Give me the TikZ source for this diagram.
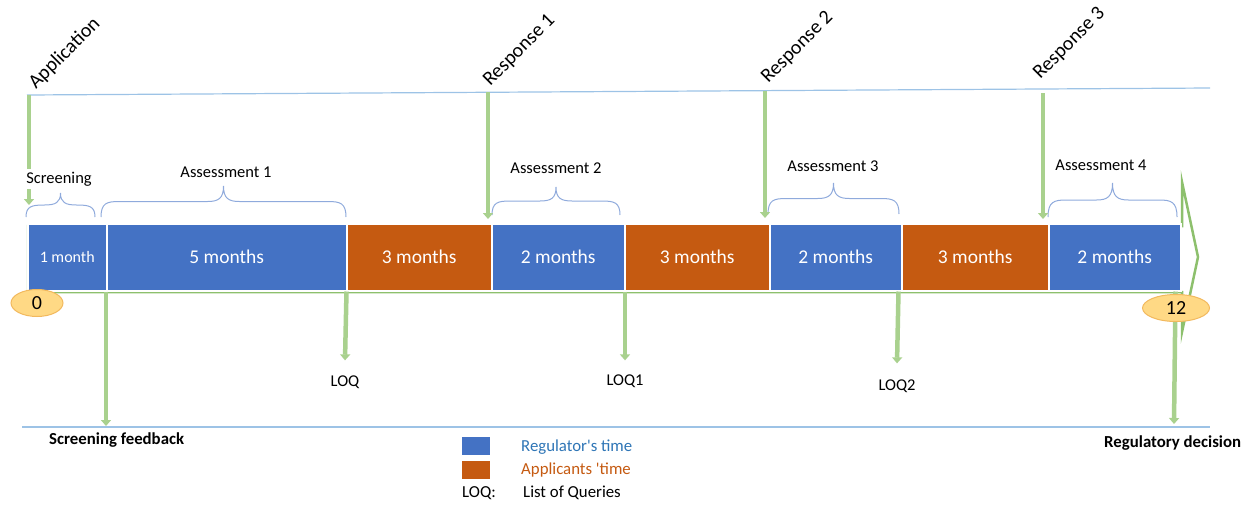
\documentclass[tikz,border=0pt]{standalone}
\usepackage{fontspec}
\setmainfont{Carlito}
\usetikzlibrary{arrows.meta,shapes.geometric}
\definecolor{regblue}{HTML}{4472C4}
\definecolor{appor}{HTML}{C55A11}
\definecolor{arrgreen}{HTML}{A9D18E}
\definecolor{arredge}{HTML}{8DC06D}
\definecolor{rulblue}{HTML}{9DC3E6}
\definecolor{brblue}{HTML}{8FAADC}
\definecolor{legblue}{HTML}{2E75B6}
\definecolor{eggfill}{HTML}{FFD985}
\definecolor{eggline}{HTML}{F2B95E}
% curly brace: x-left, x-right, y of the ends, height
\newcommand{\ofbrace}[4]{%
  \draw[bracestyle] (#1,#3) .. controls (#1,#3-0.45*#4) and (#1+6,#3-0.5*#4) .. (#1+18,#3-0.5*#4)
    -- ({(#1+#2)/2-16},#3-0.5*#4) .. controls ({(#1+#2)/2-5},#3-0.5*#4) and ({(#1+#2)/2},#3-0.6*#4) .. ({(#1+#2)/2},#3-#4)
    .. controls ({(#1+#2)/2},#3-0.6*#4) and ({(#1+#2)/2+5},#3-0.5*#4) .. ({(#1+#2)/2+16},#3-0.5*#4)
    -- (#2-18,#3-0.5*#4) .. controls (#2-6,#3-0.5*#4) and (#2,#3-0.45*#4) .. (#2,#3);}
\begin{document}
\begin{tikzpicture}[x=1pt,y=-1pt,
  rulestyle/.style={draw=rulblue,line width=1.2pt},
  bracestyle/.style={draw=brblue,line width=1pt},
  seg/.style={draw=white,line width=1.5pt,anchor=north west,minimum height=67pt,inner sep=0pt,
    text=white,font=\fontsize{19.5}{22}\selectfont},
  garrow/.style={draw=arrgreen,line width=4.5pt,-{Triangle[width=10pt,length=6pt]}},
  annot/.style={font=\fontsize{16.5}{19}\selectfont,inner sep=1pt},
  rotlab/.style={font=\fontsize{20}{24}\selectfont,anchor=south west,inner sep=0pt},
  boldlab/.style={font=\bfseries\fontsize{16.8}{19}\selectfont,inner sep=0pt},
  egg/.style={ellipse,draw=eggline,fill=eggfill,line width=1pt,inner sep=0pt,font=\fontsize{20}{24}\selectfont},
  legtext/.style={font=\fontsize{16.8}{19}\selectfont,anchor=west,inner sep=0pt}]
\useasboundingbox (0,0) rectangle (1246,504);

% horizontal guide lines
\draw[rulestyle] (27,95) -- (1210,88);
\draw[rulestyle] (22,427) -- (1210,427);

% green arrow outline behind the time bar
\draw[draw=arredge,line width=2.5pt,line join=miter]
  (28,226) -- (1182,226) -- (1182,182) -- (1198,257) -- (1182,332) -- (1182,292) -- (28,292) -- cycle;

% time bar
\node[seg,fill=regblue,minimum width=79pt,font=\fontsize{16}{19}\selectfont] (s1) at (27,223) {1 month};
\node[seg,fill=regblue,minimum width=240pt] (s2) at (106,223) {5 months};
\node[seg,fill=appor,minimum width=145pt] (s3) at (346,223) {3 months};
\node[seg,fill=regblue,minimum width=133pt] (s4) at (491,223) {2 months};
\node[seg,fill=appor,minimum width=145pt] (s5) at (624,223) {3 months};
\node[seg,fill=regblue,minimum width=132pt] (s6) at (769,223) {2 months};
\node[seg,fill=appor,minimum width=147pt] (s7) at (901,223) {3 months};
\node[seg,fill=regblue,minimum width=132pt] (s8) at (1048,223) {2 months};

% braces
\ofbrace{26}{95}{217}{24}
\ofbrace{101}{346}{217}{31}
\ofbrace{492}{620}{215}{28}
\ofbrace{768}{899}{214}{31}
\ofbrace{1048}{1177}{217}{34}

% event labels on the top line
\node[rotlab] (app) at (26,92) {\rotatebox{45}{Application}};
\node[rotlab] (r1) at (481,89) {\rotatebox{45}{Response 1}};
\node[rotlab] (r2) at (759,86) {\rotatebox{45}{Response 2}};
\node[rotlab] (r3) at (1031,82) {\rotatebox{45}{Response 3}};
\coordinate (appT) at (29,95);
\coordinate (r1T) at (488,92);
\coordinate (r2T) at (765,91);
\coordinate (r3T) at (1043,93);
\coordinate (appB) at (29,205);
\coordinate (r1B) at (488,219);
\coordinate (r2B) at (765,218);
\coordinate (r3B) at (1043,219);
\draw[garrow] (appT) -- (appB);
\draw[garrow] (r1T) -- (r1B);
\draw[garrow] (r2T) -- (r2B);
\draw[garrow] (r3T) -- (r3B);

% phase labels
\node[annot,fill=white,inner sep=3pt] (scr) at (59,179) {Screening};
\node[annot] (as1) at (226,172) {Assessment 1};
\node[annot] (as2) at (556,168) {Assessment 2};
\node[annot] (as3) at (833,166) {Assessment 3};
\node[annot] (as4) at (1101,165) {Assessment 4};

% outputs below the bar
\node[annot] (loq) at (345,382) {LOQ};
\node[annot] (loq1) at (625,381) {LOQ1};
\node[annot] (loq2) at (897,386) {LOQ2};
\coordinate (sfB) at (106,426);
\coordinate (rdB) at (1174,424);
\draw[garrow] (s2.south west) -- (sfB);
\draw[garrow] ([xshift=-1pt]s2.south east) -- ([yshift=14pt]loq.north);
\draw[garrow] ([xshift=1pt]s5.south west) -- ([yshift=13pt]loq1.north);
\draw[garrow] ([xshift=-4pt]s6.south east) -- ([yshift=15pt]loq2.north);
\draw[garrow] ([xshift=-6pt]s8.south east) -- (rdB);

\node[boldlab,anchor=west] (sf) at (49,440) {Screening feedback};
\node[boldlab,anchor=west] (rd) at (1104,443) {Regulatory decision};

% month markers
\node[egg,minimum width=52pt,minimum height=27pt] (m0) at (37,303) {0};
\node[egg,minimum width=67pt,minimum height=27pt] (m12) at (1176,308) {12};

% legend
\fill[regblue] (462,437) rectangle (490,455);
\fill[appor] (462,461) rectangle (490,479);
\node[legtext,text=legblue] (lg1) at (521,447) {Regulator\textquotesingle s time};
\node[legtext,text=appor] (lg2) at (521,470) {Applicants \textquotesingle time};
\node[legtext] (lg3) at (462,493) {LOQ:};
\node[legtext] (lg4) at (523,493) {List of Queries};
\end{tikzpicture}
\end{document}
